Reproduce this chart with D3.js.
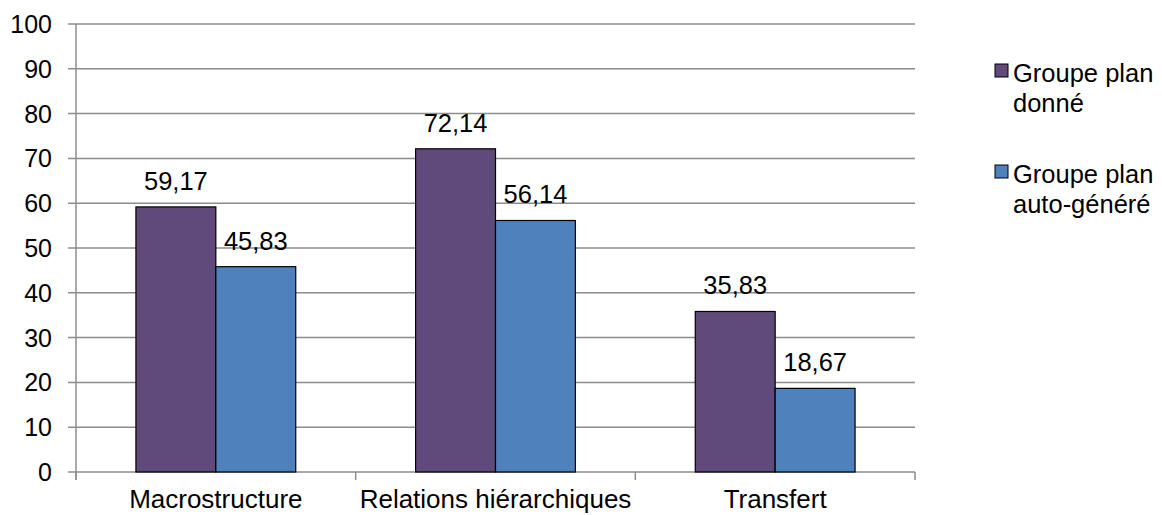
<!DOCTYPE html>
<html><head><meta charset="utf-8">
<script src="https://cdn.jsdelivr.net/npm/d3@7"></script>
<style>body{margin:0;background:#fff}</style>
</head><body><svg id="c" width="1162" height="515" font-family="'Liberation Sans', Arial, sans-serif"></svg>
<script>
const categories = ["Macrostructure", "Relations hiérarchiques", "Transfert"];
const seriesNames = ["Groupe plan donné", "Groupe plan auto-généré"];
const legendLines = [["Groupe plan", "donné"], ["Groupe plan", "auto-généré"]];
const valuesDonne = [59.17, 72.14, 35.83];
const valuesAuto = [45.83, 56.14, 18.67];
const labelsDonne = ["59,17", "72,14", "35,83"];
const labelsAuto = ["45,83", "56,14", "18,67"];
const yTicks = [0, 10, 20, 30, 40, 50, 60, 70, 80, 90, 100];
const colors = ["#604A7B", "#4F81BD"];

const svg = d3.select("#c");
const FS = 25.5;
const pL = 76, pR = 915, pT = 24, pB = 472;
const x = d3.scaleBand().domain(categories).range([pL, pR]);
const xs = d3.scaleBand().domain([0, 1]).range([0, x.bandwidth()]).paddingInner(0).paddingOuter(0.75);
const y = d3.scaleLinear().domain([0, 100]).range([pB, pT]);

// gridlines
svg.append("g").selectAll("line").data(yTicks).join("line")
  .attr("x1", pL - 8).attr("x2", pR).attr("y1", d => y(d)).attr("y2", d => y(d))
  .attr("stroke", "#8c8c8c").attr("stroke-width", 1.5);
// y axis line
svg.append("line").attr("x1", pL).attr("x2", pL).attr("y1", pT).attr("y2", pB + 8)
  .attr("stroke", "#8c8c8c").attr("stroke-width", 1.5);
// y labels
svg.append("g").selectAll("text").data(yTicks).join("text")
  .attr("x", 52).attr("y", d => y(d)).attr("dy", "0.36em").attr("text-anchor", "end")
  .attr("font-size", 25).attr("fill", "#000").text(d => d);
// x category ticks
const xTickPos = categories.map(c => x(c)).concat([pR]);
svg.append("g").selectAll("line").data(xTickPos).join("line")
  .attr("x1", d => d).attr("x2", d => d).attr("y1", pB).attr("y2", pB + 8)
  .attr("stroke", "#8c8c8c").attr("stroke-width", 1.5);
svg.append("g").selectAll("text").data(categories).join("text")
  .attr("x", d => x(d) + x.bandwidth() / 2).attr("y", 508).attr("text-anchor", "middle")
  .attr("font-size", 26).attr("fill", "#000").text(d => d);

const series = [valuesDonne, valuesAuto];
const labels = [labelsDonne, labelsAuto];
series.forEach((vals, si) => {
  const g = svg.append("g");
  g.selectAll("rect").data(categories).join("rect")
    .attr("x", c => x(c) + xs(si)).attr("width", xs.bandwidth())
    .attr("y", (c, i) => y(vals[i])).attr("height", (c, i) => pB - y(vals[i]))
    .attr("fill", colors[si]).attr("stroke", "#000").attr("stroke-width", 1.2);
  g.selectAll("text").data(categories).join("text")
    .attr("x", c => x(c) + xs(si) + xs.bandwidth() / 2)
    .attr("y", (c, i) => y(vals[i]) - 17).attr("text-anchor", "middle")
    .attr("font-size", FS).attr("fill", "#000").text((c, i) => labels[si][i]);
});

// legend
const leg = svg.append("g");
legendLines.forEach((lines, i) => {
  const ly = 64 + i * 101;
  leg.append("rect").attr("x", 995).attr("y", ly).attr("width", 13).attr("height", 13)
    .attr("fill", colors[i]).attr("stroke", "#000").attr("stroke-width", 1);
  lines.forEach((t, j) => {
    leg.append("text").attr("x", 1013).attr("y", ly + 18 + j * 30).attr("font-size", FS)
      .attr("fill", "#000").text(t);
  });
});
</script></body></html>
